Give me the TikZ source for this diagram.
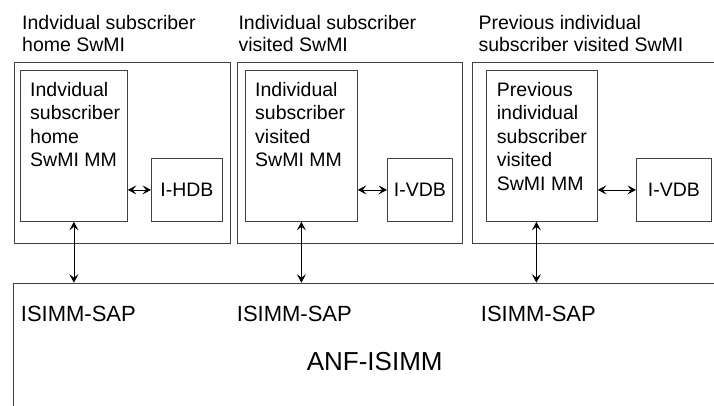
\documentclass[tikz,border=0pt]{standalone}
\usepackage{fontspec}
\setmainfont{Liberation Sans}
\usetikzlibrary{arrows.meta}

\begin{document}
\begin{tikzpicture}[x=1pt,y=-1pt,
	box/.style={draw=black!75, line width=0.8pt, inner sep=0pt, anchor=north west},
	txt/.style={inner sep=0pt, anchor=north west, align=left, font=\fontsize{19.5}{23.5}\selectfont},
	lbl/.style={inner sep=0pt, anchor=north west, align=left, font=\fontsize{19.5}{21.7}\selectfont},
	sap/.style={inner sep=0pt, anchor=base west, font=\fontsize{22}{26}\selectfont},
	link/.style={line width=0.8pt, {Stealth[length=8.5pt,width=9pt,inset=3.5pt]}-{Stealth[length=8.5pt,width=9pt,inset=3.5pt]}}]
		
		\useasboundingbox (0,0) rectangle (714,405);
		\clip (0,0) rectangle (714,405);
		
		\node[lbl] (head1) at (22,15) {Indvidual subscriber\\home SwMI};
		\node[lbl] (head2) at (238.3,15) {Individual subscriber\\visited SwMI};
		\node[lbl] (head3) at (478.3,15) {Previous individual\\subscriber visited SwMI};
		
		\node[box, minimum width=216pt, minimum height=181.3pt] (home) at (14,62) {};
		\node[box, minimum width=225pt, minimum height=181.3pt] (visit) at (237,62) {};
		\node[box, minimum width=258pt, minimum height=181.3pt] (prev) at (472,62) {};
		
		\node[box, minimum width=107pt, minimum height=151pt] (mm1) at (20,70) {};
		\node[box, minimum width=112pt, minimum height=151pt] (mm2) at (245,70) {};
		\node[box, minimum width=111pt, minimum height=151pt] (mm3) at (486,70) {};
		\node[txt] (mm1txt) at (30,81.7) {Indvidual\\subscriber\\home\\SwMI MM};
		\node[txt] (mm2txt) at (255,81.7) {Individual\\subscriber\\visited\\SwMI MM};
		\node[txt] (mm3txt) at (496.7,81.7) {Previous\\individual\\subscriber\\visited\\SwMI MM};
		
		\node[box, font=\fontsize{19.5}{23.5}\selectfont, minimum width=71pt, minimum height=62.4pt] (hdb) at (151,158.3) {I-HDB};
		\node[box, font=\fontsize{19.5}{23.5}\selectfont, minimum width=65pt, minimum height=62.4pt] (vdb) at (387,158.3) {I-VDB};
		\node[box, font=\fontsize{19.5}{23.5}\selectfont, minimum width=75pt, minimum height=62.4pt] (pvdb) at (636,158.3) {I-VDB};
		
		\node[box, minimum width=720pt, minimum height=140pt] (anf) at (13.3,282.7) {};
		\node[sap] (sap1) at (20.7,321.7) {ISIMM-SAP};
		\node[sap] (sap2) at (236.7,321.7) {ISIMM-SAP};
		\node[sap] (sap3) at (480.7,321.7) {ISIMM-SAP};
		\node[inner sep=0pt, anchor=base, font=\fontsize{26}{30}\selectfont] (anfname) at (374.7,370.7) {ANF-ISIMM};
		
		\draw[link] (hdb.west -| mm1.east) -- (hdb.west);
		\draw[link] (vdb.west -| mm2.east) -- (vdb.west);
		\draw[link] (pvdb.west -| mm3.east) -- (pvdb.west);
		
		\draw[link] (mm1.south) -- (mm1.south |- anf.north);
		\draw[link] (mm2.south) -- (mm2.south |- anf.north);
		\draw[link] ([xshift=-5.5pt]mm3.south) -- ([xshift=-5.5pt]mm3.south |- anf.north);
		\end{tikzpicture}
\end{document}
